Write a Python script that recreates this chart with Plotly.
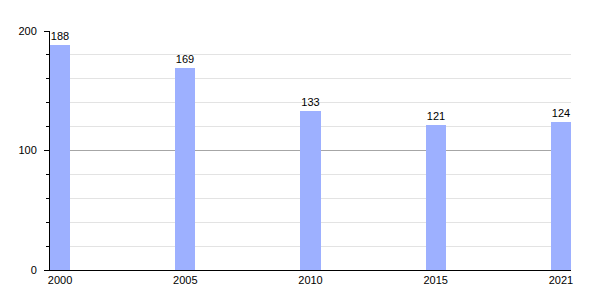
import plotly.graph_objects as go

years = ["2000", "2005", "2010", "2015", "2021"]
values = [188, 169, 133, 121, 124]
y_ticks = [0, 100, 200]

fig = go.Figure()
fig.add_trace(go.Bar(
    x=years, y=values,
    width=0.16,
    marker=dict(color="#9db0ff", line=dict(width=0)),
    text=[str(v) for v in values],
    textposition="outside",
    textfont=dict(family="Liberation Sans, Arial", size=11, color="black"),
    cliponaxis=False,
))

fig.update_layout(
    width=600, height=300,
    margin=dict(l=50, r=29, t=31, b=30),
    plot_bgcolor="white", paper_bgcolor="white",
    font=dict(family="Liberation Sans, Arial", size=11, color="black"),
    showlegend=False,
    bargap=0,
)
fig.update_xaxes(
    type="category",
    range=[-0.08, 4.08],
    showline=True, linecolor="black", linewidth=1,
    ticks="", showgrid=False,
    tickfont=dict(size=11),
)
fig.update_yaxes(
    range=[0, 200],
    tickvals=y_ticks,
    showline=True, linecolor="black", linewidth=1,
    ticks="outside", ticklen=5, tickcolor="black",
    showgrid=True, gridcolor="#a6a6a6", gridwidth=1,
    zeroline=False,
    ticklabelstandoff=5,
    minor=dict(dtick=20, showgrid=True, gridcolor="#e3e3e3", gridwidth=1,
               ticks="outside", ticklen=3, tickcolor="black"),
    tickfont=dict(size=11),
)

fig.write_html("out.html")
